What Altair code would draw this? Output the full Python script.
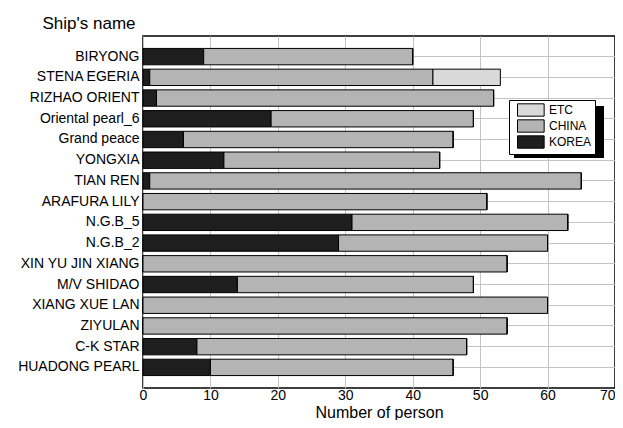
import altair as alt
import pandas as pd

ships = ["BIRYONG", "STENA EGERIA", "RIZHAO ORIENT", "Oriental pearl_6", "Grand peace",
         "YONGXIA", "TIAN REN", "ARAFURA LILY", "N.G.B_5", "N.G.B_2", "XIN YU JIN XIANG",
         "M/V SHIDAO", "XIANG XUE LAN", "ZIYULAN", "C-K STAR", "HUADONG PEARL"]
korea = [9, 1, 2, 19, 6, 12, 1, 0, 31, 29, 0, 14, 0, 0, 8, 10]
china = [31, 42, 50, 30, 40, 32, 64, 51, 32, 31, 54, 35, 60, 54, 40, 36]
etc = [0, 10, 0, 0, 0, 0, 0, 0, 0, 0, 0, 0, 0, 0, 0, 0]

groups = ["KOREA", "CHINA", "ETC"]
rows = []
for i, s in enumerate(ships):
    for g, vals in zip(groups, [korea, china, etc]):
        rows.append({"ship": s, "group": g, "value": vals[i], "order": groups.index(g)})
df = pd.DataFrame(rows)

bars = alt.Chart(df).mark_bar(stroke="black", strokeWidth=1).encode(
    y=alt.Y("ship:N", sort=ships,
            scale=alt.Scale(paddingInner=0.21, paddingOuter=0.6),
            axis=alt.Axis(title="Ship's name", titleAngle=0, titleAlign="left",
                          titleBaseline="alphabetic", titleX=-101, titleY=-8,
                          titleFontSize=17, titleFontWeight="normal",
                          labelFontSize=14, labelPadding=4, ticks=False, domain=False,
                          grid=True, bandPosition=0.5, gridColor="#c4c4c4")),
    x=alt.X("value:Q", stack="zero",
            scale=alt.Scale(domain=[0, 70], nice=False),
            axis=alt.Axis(title="Number of person", values=[0, 10, 20, 30, 40, 50, 60, 70],
                          titleFontSize=16, titleFontWeight="normal",
                          titleBaseline="alphabetic", titleY=29,
                          labelFontSize=14, labelPadding=0, ticks=False, domain=False,
                          labelAlign=alt.expr("datum.value == 70 ? 'right' : 'center'"),
                          grid=True, gridColor="#c4c4c4")),
    color=alt.Color("group:N",
                    scale=alt.Scale(domain=["ETC", "CHINA", "KOREA"],
                                    range=["#d9d9d9", "#b4b4b4", "#1e1e1e"]),
                    legend=alt.Legend(title=None, orient="none", legendX=366, legendY=64,
                                      fillColor="white", strokeColor="black",
                                      padding=3, labelFontSize=12, labelOffset=18,
                                      labelExpr="datum.label + '\u00a0\u00a0'",
                                      symbolOffset=5,
                                      symbolType="M-1,-0.95H3.1V0.95H-1Z", symbolSize=169,
                                      symbolStrokeColor="black", symbolStrokeWidth=1,
                                      symbolOpacity=1, rowPadding=-4.5)),
    order=alt.Order("order:Q"),
)

shadow = alt.Chart(pd.DataFrame({"a": [0]})).mark_rect(color="black").encode(
    x=alt.value(371), x2=alt.value(461), y=alt.value(70), y2=alt.value(122)
)

chart = alt.layer(shadow, bars).properties(
    width=472, height=352,
    autosize=alt.AutoSizeParams(type="none"),
    padding={"left": 135, "top": 28, "right": 0, "bottom": 32},
).configure(font="Liberation Sans").configure_view(
    stroke="black", strokeWidth=1.5
).configure_axis(labelColor="black", titleColor="black").configure_legend(
    labelColor="black"
)

chart.save("out.html", embed_options={"renderer": "svg", "actions": False})
